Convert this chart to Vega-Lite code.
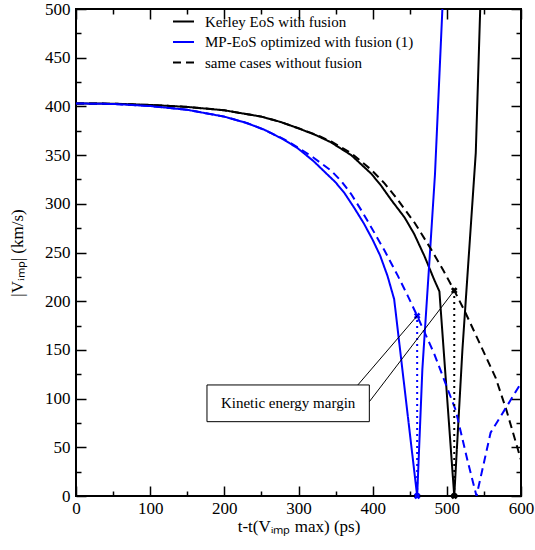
{
  "$schema": "https://vega.github.io/schema/vega-lite/v6.json",
  "width": 445,
  "height": 487,
  "padding": {"left": 8, "top": 0, "right": 2, "bottom": 2},
  "background": "white",
  "config": {
    "view": {"stroke": "black", "strokeWidth": 2},
    "axis": {
      "grid": false,
      "domain": false,
      "labelFont": "Liberation Serif",
      "labelFontSize": 17,
      "labelColor": "black",
      "labelFlush": false,
      "titleFont": "Liberation Serif",
      "titleFontSize": 17,
      "titleFontWeight": "normal",
      "titleColor": "black",
      "tickColor": "black",
      "tickWidth": 1.5
    }
  },
  "datasets": {
    "curves": [
      {"series": "Kerley EoS with fusion", "t": 0, "v": 403},
      {"series": "Kerley EoS with fusion", "t": 50, "v": 402.8},
      {"series": "Kerley EoS with fusion", "t": 100, "v": 401.5},
      {"series": "Kerley EoS with fusion", "t": 150, "v": 399.5},
      {"series": "Kerley EoS with fusion", "t": 200, "v": 396},
      {"series": "Kerley EoS with fusion", "t": 250, "v": 389.5},
      {"series": "Kerley EoS with fusion", "t": 276, "v": 384},
      {"series": "Kerley EoS with fusion", "t": 300, "v": 377.5},
      {"series": "Kerley EoS with fusion", "t": 325, "v": 370},
      {"series": "Kerley EoS with fusion", "t": 344, "v": 363},
      {"series": "Kerley EoS with fusion", "t": 371, "v": 350},
      {"series": "Kerley EoS with fusion", "t": 398, "v": 331},
      {"series": "Kerley EoS with fusion", "t": 411, "v": 319},
      {"series": "Kerley EoS with fusion", "t": 425, "v": 304},
      {"series": "Kerley EoS with fusion", "t": 443, "v": 286},
      {"series": "Kerley EoS with fusion", "t": 456, "v": 269},
      {"series": "Kerley EoS with fusion", "t": 470, "v": 246},
      {"series": "Kerley EoS with fusion", "t": 483, "v": 222},
      {"series": "Kerley EoS with fusion", "t": 490, "v": 210},
      {"series": "Kerley EoS with fusion", "t": 510, "v": 0},
      {"series": "Kerley EoS with fusion", "t": 521, "v": 150},
      {"series": "Kerley EoS with fusion", "t": 539, "v": 352},
      {"series": "Kerley EoS with fusion", "t": 545, "v": 500},
      {"series": "MP-EoS optimized with fusion (1)", "t": 0, "v": 403},
      {"series": "MP-EoS optimized with fusion (1)", "t": 50, "v": 402.5},
      {"series": "MP-EoS optimized with fusion (1)", "t": 100, "v": 400.4},
      {"series": "MP-EoS optimized with fusion (1)", "t": 150, "v": 396.5},
      {"series": "MP-EoS optimized with fusion (1)", "t": 200, "v": 389.5},
      {"series": "MP-EoS optimized with fusion (1)", "t": 230, "v": 383},
      {"series": "MP-EoS optimized with fusion (1)", "t": 254, "v": 376},
      {"series": "MP-EoS optimized with fusion (1)", "t": 280, "v": 366},
      {"series": "MP-EoS optimized with fusion (1)", "t": 299, "v": 357},
      {"series": "MP-EoS optimized with fusion (1)", "t": 320, "v": 344},
      {"series": "MP-EoS optimized with fusion (1)", "t": 335, "v": 333},
      {"series": "MP-EoS optimized with fusion (1)", "t": 350, "v": 322},
      {"series": "MP-EoS optimized with fusion (1)", "t": 362, "v": 311},
      {"series": "MP-EoS optimized with fusion (1)", "t": 375, "v": 296},
      {"series": "MP-EoS optimized with fusion (1)", "t": 388, "v": 280},
      {"series": "MP-EoS optimized with fusion (1)", "t": 400, "v": 263},
      {"series": "MP-EoS optimized with fusion (1)", "t": 410, "v": 247},
      {"series": "MP-EoS optimized with fusion (1)", "t": 420, "v": 226},
      {"series": "MP-EoS optimized with fusion (1)", "t": 429, "v": 202},
      {"series": "MP-EoS optimized with fusion (1)", "t": 460, "v": 0},
      {"series": "MP-EoS optimized with fusion (1)", "t": 467, "v": 130},
      {"series": "MP-EoS optimized with fusion (1)", "t": 476, "v": 235},
      {"series": "MP-EoS optimized with fusion (1)", "t": 484, "v": 330},
      {"series": "MP-EoS optimized with fusion (1)", "t": 494, "v": 500},
      {"series": "same cases without fusion", "t": 0, "v": 403},
      {"series": "same cases without fusion", "t": 50, "v": 402.8},
      {"series": "same cases without fusion", "t": 100, "v": 401.5},
      {"series": "same cases without fusion", "t": 150, "v": 399.5},
      {"series": "same cases without fusion", "t": 200, "v": 396},
      {"series": "same cases without fusion", "t": 250, "v": 389.5},
      {"series": "same cases without fusion", "t": 276, "v": 384},
      {"series": "same cases without fusion", "t": 300, "v": 377.5},
      {"series": "same cases without fusion", "t": 325, "v": 370.5},
      {"series": "same cases without fusion", "t": 344, "v": 364},
      {"series": "same cases without fusion", "t": 371, "v": 352},
      {"series": "same cases without fusion", "t": 398, "v": 335},
      {"series": "same cases without fusion", "t": 416, "v": 321},
      {"series": "same cases without fusion", "t": 434, "v": 304},
      {"series": "same cases without fusion", "t": 457, "v": 280},
      {"series": "same cases without fusion", "t": 479, "v": 253},
      {"series": "same cases without fusion", "t": 495, "v": 232},
      {"series": "same cases without fusion", "t": 510, "v": 211},
      {"series": "same cases without fusion", "t": 524, "v": 190},
      {"series": "same cases without fusion", "t": 546, "v": 154},
      {"series": "same cases without fusion", "t": 566, "v": 121},
      {"series": "same cases without fusion", "t": 580, "v": 89},
      {"series": "same cases without fusion", "t": 600, "v": 37},
      {"series": "MP-EoS without fusion", "t": 0, "v": 403},
      {"series": "MP-EoS without fusion", "t": 50, "v": 402.5},
      {"series": "MP-EoS without fusion", "t": 100, "v": 400.4},
      {"series": "MP-EoS without fusion", "t": 150, "v": 396.5},
      {"series": "MP-EoS without fusion", "t": 200, "v": 389.5},
      {"series": "MP-EoS without fusion", "t": 230, "v": 383},
      {"series": "MP-EoS without fusion", "t": 254, "v": 376},
      {"series": "MP-EoS without fusion", "t": 280, "v": 366.5},
      {"series": "MP-EoS without fusion", "t": 299, "v": 358},
      {"series": "MP-EoS without fusion", "t": 320, "v": 347.5},
      {"series": "MP-EoS without fusion", "t": 344, "v": 334},
      {"series": "MP-EoS without fusion", "t": 358, "v": 323},
      {"series": "MP-EoS without fusion", "t": 371, "v": 310},
      {"series": "MP-EoS without fusion", "t": 385, "v": 293},
      {"series": "MP-EoS without fusion", "t": 398, "v": 276},
      {"series": "MP-EoS without fusion", "t": 416, "v": 252},
      {"series": "MP-EoS without fusion", "t": 434, "v": 226},
      {"series": "MP-EoS without fusion", "t": 447, "v": 206},
      {"series": "MP-EoS without fusion", "t": 460, "v": 185},
      {"series": "MP-EoS without fusion", "t": 483, "v": 146},
      {"series": "MP-EoS without fusion", "t": 512, "v": 88},
      {"series": "MP-EoS without fusion", "t": 528, "v": 36},
      {"series": "MP-EoS without fusion", "t": 540, "v": 0},
      {"series": "MP-EoS without fusion", "t": 559, "v": 65},
      {"series": "MP-EoS without fusion", "t": 580, "v": 91},
      {"series": "MP-EoS without fusion", "t": 600, "v": 116}
    ],
    "dotted": [
      {"case": "blue", "t": 460, "v0": 0, "v1": 185},
      {"case": "black", "t": 510, "v0": 0, "v1": 211}
    ],
    "marks": [
      {"case": "blue", "t": 460, "v": 0},
      {"case": "blue", "t": 460, "v": 185},
      {"case": "black", "t": 510, "v": 0},
      {"case": "black", "t": 510, "v": 211}
    ],
    "pointers": [
      {"t1": 380, "v1": 114, "t2": 460, "v2": 185},
      {"t1": 395.5, "v1": 96.8, "t2": 510, "v2": 211}
    ],
    "box": [
      {"t1": 176.6, "t2": 395.5, "v1": 76.3, "v2": 114, "tc": 286, "vc": 95.2, "label": "Kinetic energy margin"}
    ]
  },
  "layer": [
    {
      "data": {"name": "curves"},
      "mark": {"type": "line", "strokeWidth": 2, "clip": true},
      "encoding": {
        "x": {
          "field": "t", "type": "quantitative",
          "scale": {"domain": [0, 600], "nice": false},
          "axis": {"orient": "bottom", "values": [0, 100, 200, 300, 400, 500, 600], "ticks": true, "tickSize": -10, "labelPadding": 14, "title": "t-t(Vᵢₘₚ max) (ps)", "titlePadding": 2}
        },
        "y": {
          "field": "v", "type": "quantitative",
          "scale": {"domain": [0, 500], "nice": false},
          "axis": {"orient": "left", "values": [0, 50, 100, 150, 200, 250, 300, 350, 400, 450, 500], "ticks": true, "tickSize": -10, "labelPadding": 16, "title": "|Vᵢₘₚ| (km/s)", "titlePadding": 18}
        },
        "color": {
          "field": "series", "type": "nominal",
          "scale": {"domain": ["Kerley EoS with fusion", "MP-EoS optimized with fusion (1)", "same cases without fusion", "MP-EoS without fusion"], "range": ["black", "#0000ff", "black", "#0000ff"]},
          "legend": {"values": ["Kerley EoS with fusion", "MP-EoS optimized with fusion (1)", "same cases without fusion"], "orient": "none", "legendX": 96, "legendY": 1, "title": null, "symbolType": "stroke", "symbolSize": 441, "symbolStrokeWidth": 2, "labelFont": "Liberation Serif", "labelFontSize": 15, "labelColor": "black", "labelOffset": 10, "rowPadding": 0.5, "padding": 0, "labelLimit": 400}
        },
        "strokeDash": {
          "field": "series", "type": "nominal",
          "scale": {"domain": ["Kerley EoS with fusion", "MP-EoS optimized with fusion (1)", "same cases without fusion", "MP-EoS without fusion"], "range": [[1, 0], [1, 0], [8, 5], [8, 5]]},
          "legend": {"values": ["Kerley EoS with fusion", "MP-EoS optimized with fusion (1)", "same cases without fusion"], "orient": "none", "legendX": 96, "legendY": 1, "title": null, "symbolType": "stroke", "symbolSize": 441, "symbolStrokeWidth": 2, "labelFont": "Liberation Serif", "labelFontSize": 15, "labelColor": "black", "labelOffset": 10, "rowPadding": 0.5, "padding": 0, "labelLimit": 400}
        }
      }
    },
    {
      "data": {"name": "dotted"},
      "mark": {"type": "rule", "strokeWidth": 2, "strokeDash": [2, 4]},
      "encoding": {
        "x": {"field": "t", "type": "quantitative", "axis": {"orient": "bottom", "values": [50, 150, 250, 350, 450, 550], "tickSize": -5, "labelExpr": "''", "labelFontSize": 1, "labelPadding": 0, "title": null}},
        "y": {"field": "v0", "type": "quantitative", "axis": {"orient": "left", "values": [25, 75, 125, 175, 225, 275, 325, 375, 425, 475], "tickSize": -5, "labelExpr": "''", "labelFontSize": 1, "labelPadding": 0, "title": null}},
        "y2": {"field": "v1"},
        "color": {"condition": {"test": "datum['case'] === 'blue'", "value": "#0000ff"}, "value": "black"}
      }
    },
    {
      "data": {"name": "marks"},
      "mark": {"type": "point", "shape": "cross", "angle": 45, "filled": true, "size": 45, "opacity": 1},
      "encoding": {
        "x": {"field": "t", "type": "quantitative", "axis": {"orient": "top", "values": [0, 100, 200, 300, 400, 500, 600], "tickSize": -10, "labelExpr": "''", "labelFontSize": 1, "labelPadding": 0, "title": null}},
        "y": {"field": "v", "type": "quantitative", "axis": {"orient": "right", "values": [0, 50, 100, 150, 200, 250, 300, 350, 400, 450, 500], "tickSize": -10, "labelExpr": "''", "labelFontSize": 1, "labelPadding": 0, "title": null}},
        "color": {"condition": {"test": "datum['case'] === 'blue'", "value": "#0000ff"}, "value": "black"}
      }
    },
    {
      "data": {"name": "pointers"},
      "mark": {"type": "rule", "strokeWidth": 1, "color": "black"},
      "encoding": {
        "x": {"field": "t1", "type": "quantitative", "axis": {"orient": "top", "values": [50, 150, 250, 350, 450, 550], "tickSize": -5, "labelExpr": "''", "labelFontSize": 1, "labelPadding": 0, "title": null}},
        "x2": {"field": "t2"},
        "y": {"field": "v1", "type": "quantitative", "axis": {"orient": "right", "values": [25, 75, 125, 175, 225, 275, 325, 375, 425, 475], "tickSize": -5, "labelExpr": "''", "labelFontSize": 1, "labelPadding": 0, "title": null}},
        "y2": {"field": "v2"}
      }
    },
    {
      "data": {"name": "box"},
      "mark": {"type": "rect", "fill": "white", "stroke": "black", "strokeWidth": 1},
      "encoding": {
        "x": {"field": "t1", "type": "quantitative", "axis": null},
        "x2": {"field": "t2"},
        "y": {"field": "v1", "type": "quantitative", "axis": null},
        "y2": {"field": "v2"}
      }
    },
    {
      "data": {"name": "box"},
      "mark": {"type": "text", "font": "Liberation Serif", "fontSize": 15, "color": "black", "align": "center", "baseline": "middle"},
      "encoding": {
        "x": {"field": "tc", "type": "quantitative", "axis": null},
        "y": {"field": "vc", "type": "quantitative", "axis": null},
        "text": {"field": "label"}
      }
    }
  ],
  "resolve": {"axis": {"x": "independent", "y": "independent"}}
}
